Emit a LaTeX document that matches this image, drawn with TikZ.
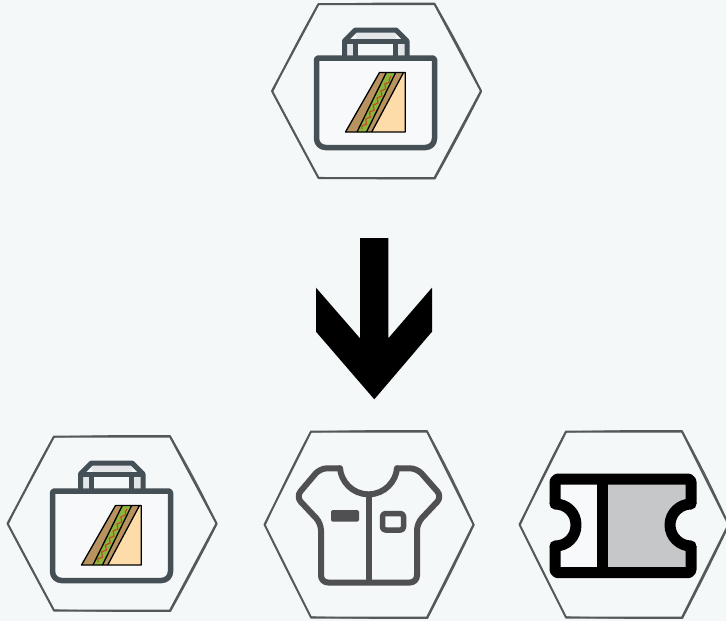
\documentclass[tikz,border=0pt]{standalone}
\usetikzlibrary{decorations.pathmorphing}
\definecolor{bgc}{HTML}{F4F8F9}
\definecolor{hexc}{HTML}{555759}
\definecolor{bagc}{HTML}{454F56}
\definecolor{bagf}{HTML}{F8F9FB}
\definecolor{bagl}{HTML}{E3E6E9}
\definecolor{shirtc}{HTML}{505052}
\definecolor{breadc}{HTML}{B8935F}
\definecolor{leafc}{HTML}{8CB33C}
\definecolor{creamc}{HTML}{FDDCAA}
\definecolor{sauce}{HTML}{C9432B}
\definecolor{ticketg}{HTML}{C6C7C9}
\tikzset{
  hexmain/.style={draw=hexc,line width=2pt,line join=round},
  hexsketch/.style={draw=hexc,line width=1.1pt,line join=round},
  bagline/.style={draw=bagc,line join=round},
  sandline/.style={draw=black,line width=1.3pt,line join=round},
  shirtline/.style={draw=shirtc,line width=6pt,line join=round,line cap=round},
  ticketline/.style={draw=black,line width=11pt,line join=round},
  pics/sandbag/.style={code={
    \fill[bagl] (347,42) rectangle (405,55);
    \fill[bagl] (356,31) rectangle (396,39);
    \fill[bgc] (358,44) rectangle (393,55);
    \draw[bagline,line width=5pt] (344.5,56) -- (344.5,41) -- (355.5,30) -- (396,30) -- (407,41) -- (407,56);
    \draw[bagline,line width=5pt] (344.5,41.5) -- (407,41.5);
    \draw[bagline,line width=4.5pt] (355.5,42) -- (355.5,56) (395.5,42) -- (395.5,56);
    \draw[bagline,line width=5.5pt,fill=bagf,rounded corners=1.5pt] (375,58) -- (434.5,58) [rounded corners=9pt] -- (434.5,147.5) -- (316.5,147.5) [rounded corners=1.5pt] -- (316.5,58) -- cycle;
    \fill[breadc] (345.5,132) -- (379.5,72.5) -- (403.5,72.5) -- (371.7,132) -- cycle;
    \fill[creamc] (371.7,132) -- (403.5,72.5) -- (405.3,72.5) -- (405.3,132) -- cycle;
    \fill[leafc] (357,132) -- (386.3,72.5) -- (395.7,72.5) -- (366.5,132) -- cycle;
    \draw[sauce,line width=1.1pt,decorate,decoration={snake,amplitude=1.6pt,segment length=8pt}] (362,129) -- (391,76);
    \draw[sandline] (357,132) -- (386.3,72.5) (366.5,132) -- (395.7,72.5) (371.7,132) -- (403.5,72.5);
    \draw[sandline] (345.5,132) -- (379.5,72.5) -- (405.3,72.5) -- (405.3,132) -- cycle;
  }}
}
\newcommand{\sketchhex}[3]{%
  \begin{scope}[shift={(#1,#2)}]
    \draw[hexmain] (-104.5,0) -- (-58,-#3) -- (58,-#3) -- (104.5,0) -- (58,#3) -- (-58,#3) -- cycle;
    \draw[hexsketch] (-104,1) to[bend left=2] (-58.5,-#3+.5) to[bend left=1] (58,-#3-.8) to[bend left=2] (105,.5) to[bend left=1] (58.5,#3+.8) to[bend left=1] (-58,#3-.6) to[bend left=1] cycle;
  \end{scope}}
\begin{document}
\begin{tikzpicture}[x=1pt,y=-1pt]
\useasboundingbox (0,0) rectangle (726,621);
\fill[bgc] (0,0) rectangle (726,621);
% hexagons
\sketchhex{376.5}{91}{87}
\sketchhex{112}{523.5}{87}
\sketchhex{369}{524.5}{93}
\begin{scope}
\clip (0,0) rectangle (726,621);
\sketchhex{624}{524.5}{93}
\end{scope}
% bags
\pic {sandbag};
\pic[shift={(-264,433)}] {sandbag};
% arrow
\fill[black] (360,238) -- (388.3,238) -- (388.3,338.3) -- (432,287.7) -- (432,331.7) -- (374.3,399.3) -- (316,331.7) -- (316,287.7) -- (360,338.3) -- cycle;
% shirt
\draw[shirtline,rounded corners=7pt] (340,468.3) -- (320,468.3) -- (296,496.7) -- (321,523.3) -- (321,582.5) -- (417,582.5) -- (417,523.3) -- (442,496.7) -- (417,468.3) -- (397,468.3);
\draw[shirtline] (340,468.3) .. controls (341,481) and (352,494.3) .. (368.5,494.3) .. controls (385,494.3) and (396,481) .. (397,468.3);
\draw[shirtline,line cap=butt] (368.5,494.3) -- (368.5,582);
\fill[shirtc,rounded corners=1.5pt] (331,510) rectangle (359,521.7);
\draw[shirtline,line width=5.5pt,rounded corners=3pt] (382.5,513.5) rectangle (403.5,530);
% ticket
\fill[bagf] (555,479) rectangle (603,572.7);
\fill[ticketg] (602,479) rectangle (691,572.7);
\fill[bgc] (555,504) .. controls (567,504) and (576,513) .. (576,525) .. controls (576,537) and (567,546) .. (555,546) -- cycle;
\fill[bgc] (691,504) .. controls (680,504) and (670,513) .. (670,525) .. controls (670,537) and (680,546) .. (691,546) -- cycle;
\draw[ticketline,rounded corners=3pt] (555,504) -- (555,479) -- (691,479) -- (691,504);
\draw[ticketline,rounded corners=3pt] (555,546) -- (555,572.7) -- (691,572.7) -- (691,546);
\draw[ticketline,line cap=round] (555,504) .. controls (567,504) and (576,513) .. (576,525) .. controls (576,537) and (567,546) .. (555,546);
\draw[ticketline,line cap=round] (691,504) .. controls (680,504) and (670,513) .. (670,525) .. controls (670,537) and (680,546) .. (691,546);
\draw[ticketline] (602.3,479) -- (602.3,572.7);
\end{tikzpicture}
\end{document}
